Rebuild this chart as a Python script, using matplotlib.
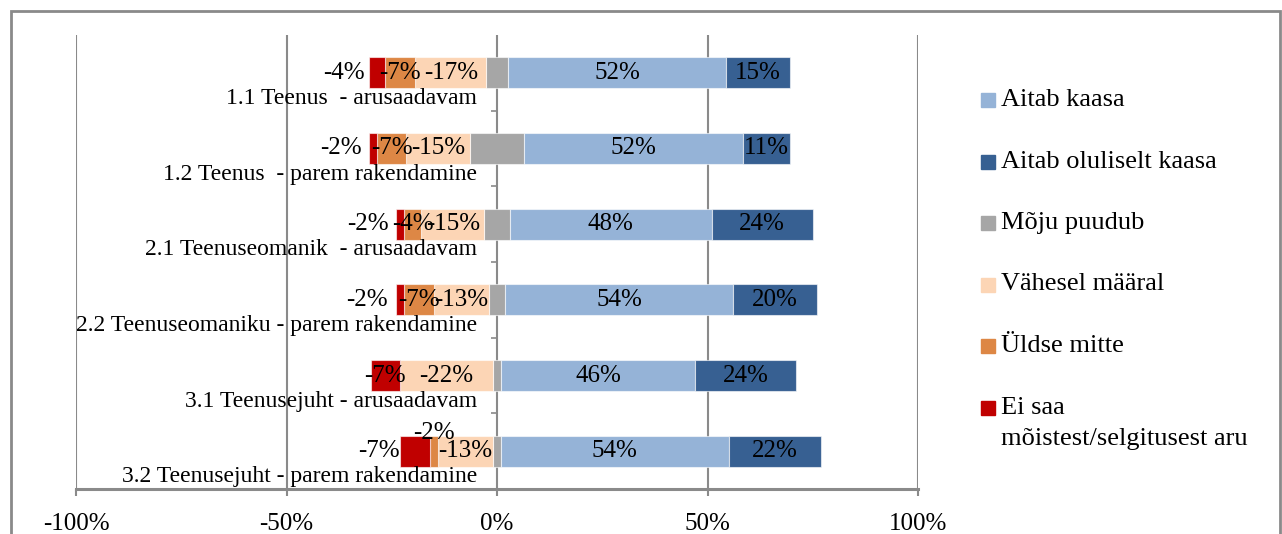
import matplotlib.pyplot as plt
from matplotlib.patches import Rectangle
import numpy as np

plt.rcParams['font.family'] = ['Liberation Serif', 'DejaVu Serif']

categories = ["1.1 Teenus  - arusaadavam",
              "1.2 Teenus  - parem rakendamine",
              "2.1 Teenuseomanik  - arusaadavam",
              "2.2 Teenuseomaniku - parem rakendamine",
              "3.1 Teenusejuht - arusaadavam",
              "3.2 Teenusejuht - parem rakendamine"]

# shares in %, positive side
aitab_kaasa = [52, 52, 48, 54, 46, 54]
aitab_oluliselt = [15, 11, 24, 20, 24, 22]
# neutral, split around zero
moju_puudub = [5, 13, 6, 4, 2, 2]
# negative side, from zero outwards
vahesel_maaral = [17, 15, 15, 13, 22, 13]
uldse_mitte = [7, 7, 4, 7, 0, 2]
ei_saa_aru = [4, 2, 2, 2, 7, 7]

legend_labels = ["Aitab kaasa", "Aitab oluliselt kaasa", "Mõju puudub",
                 "Vähesel määral", "Üldse mitte",
                 "Ei saa\nmõistest/selgitusest aru"]
colors = {"aitab": "#95b3d7", "oluliselt": "#376092", "puudub": "#a6a6a6",
          "vahesel": "#fcd5b5", "uldse": "#dd8745", "eisaa": "#c00000"}
xticks = [-100, -50, 0, 50, 100]

W, H = 1282, 534
fig = plt.figure(figsize=(W / 100, H / 100), dpi=100)
ax = fig.add_axes([76 / W, 1 - 489 / H, 842 / W, 454 / H])

y = np.arange(len(categories))
bh = 0.41
grid_c = "#8a8a8a"
edge = dict(edgecolor=(1, 1, 1, 0.6), linewidth=0.8, zorder=3)
fs = 18

half = np.array(moju_puudub) / 2
ax.barh(y, moju_puudub, left=-half, height=bh, color=colors["puudub"], **edge)

# positive segments
pos_edge = half.copy()
for key, vals in [("aitab", aitab_kaasa), ("oluliselt", aitab_oluliselt)]:
    v = np.array(vals)
    ax.barh(y, v, left=pos_edge, height=bh, color=colors[key], **edge)
    for i in range(len(y)):
        if v[i] > 0:
            ax.text(pos_edge[i] + v[i] / 2, y[i], f"{v[i]}%", ha="center",
                    va="center", fontsize=fs, zorder=5)
    pos_edge = pos_edge + v

# negative segments
neg_edge = -half.copy()
red_gap = {0: 1.0, 1: 1.7, 2: 1.7, 3: 1.9, 5: 0.2}
for key, vals in [("vahesel", vahesel_maaral), ("uldse", uldse_mitte),
                  ("eisaa", ei_saa_aru)]:
    v = np.array(vals)
    ax.barh(y, -v, left=neg_edge, height=bh, color=colors[key], **edge)
    for i in range(len(y)):
        if v[i] == 0:
            continue
        cx, cy, ha = neg_edge[i] - v[i] / 2, y[i], "center"
        if key == "eisaa" and i in red_gap:
            cx, ha = neg_edge[i] - v[i] - red_gap[i], "right"
        if key == "uldse" and i == 5:
            cy = y[i] - 0.24
        ax.text(cx, cy, f"-{v[i]}%", ha=ha, va="center", fontsize=fs, zorder=5)
    neg_edge = neg_edge - v

# category names sit just below each bar
for i, name in enumerate(categories):
    ax.text(-4.8, y[i] + 0.34, name, ha="right", va="center", fontsize=17,
            zorder=4)

# small ticks between categories on the zero line
ax.hlines(y[:-1] + 0.5, -1.5, 0, color=grid_c, linewidth=1.2, zorder=2)

ax.set_xlim(-100, 100)
ax.set_ylim(len(categories) - 0.5, -0.5)
ax.set_xticks(xticks)
ax.set_xticklabels([f"{t}%" for t in xticks], fontsize=18)
ax.set_yticks([])
ax.grid(axis="x", color=grid_c, linewidth=1.5, zorder=0)
ax.set_axisbelow(True)
for s in ["top", "left", "right"]:
    ax.spines[s].set_visible(False)
ax.spines["bottom"].set_color(grid_c)
ax.spines["bottom"].set_linewidth(2.2)
ax.tick_params(axis="x", length=5, width=1.5, color=grid_c, pad=12)

# legend drawn by hand, one square per series
leg_colors = [colors[k] for k in ["aitab", "oluliselt", "puudub", "vahesel",
                                  "uldse", "eisaa"]]
for j, (lab, c) in enumerate(zip(legend_labels, leg_colors)):
    yc = 100 + j * 61.5
    fig.patches.append(Rectangle((981 / W, 1 - (yc + 7) / H), 14 / W, 14 / H,
                                 transform=fig.transFigure, color=c))
    for k, line in enumerate(lab.split("\n")):
        fig.text(1001 / W, 1 - (yc + k * 31) / H, line, ha="left",
                 va="center", fontsize=19)

# chart frame
fig.patches.append(Rectangle((11 / W, -0.1), 1269 / W, 1.1 - 11 / H,
                             transform=fig.transFigure, fill=False,
                             edgecolor=grid_c, linewidth=2))

fig.savefig("out.png", dpi=100)
